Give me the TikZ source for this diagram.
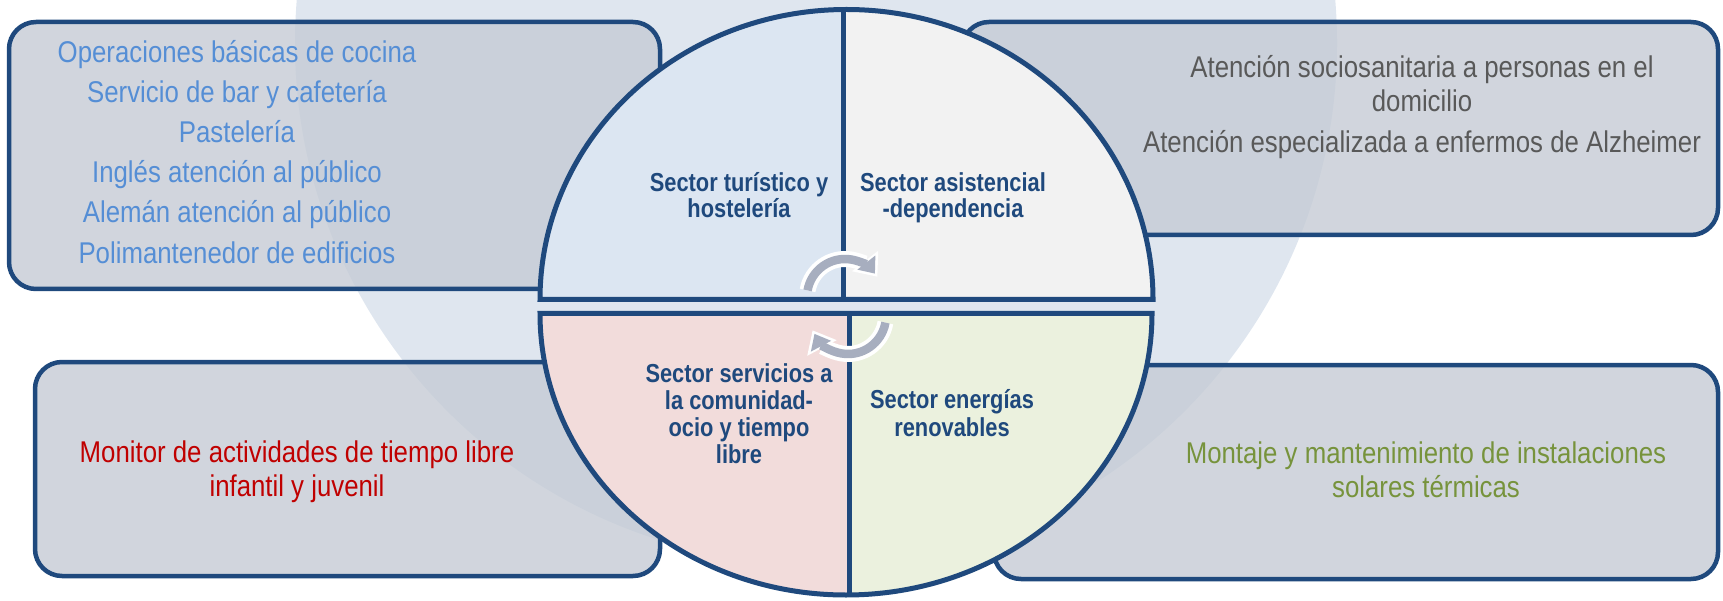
\documentclass[tikz,border=0pt]{standalone}
\usepackage{fontspec}
\setmainfont{Liberation Sans}
\newfontfamily\nar[FakeStretch=0.86]{Liberation Sans}
\newfontfamily\narb[FakeStretch=0.84]{Liberation Sans}
\usetikzlibrary{arrows.meta}
\definecolor{navy}{HTML}{1F497D}
\definecolor{bgc}{HTML}{DFE6EF}
\definecolor{boxc}{HTML}{C5CBD5}
\definecolor{tlc}{HTML}{DCE6F2}
\definecolor{trc}{HTML}{F2F2F2}
\definecolor{blc}{HTML}{F2DCDB}
\definecolor{brc}{HTML}{EBF1DE}
\definecolor{ctl}{HTML}{558ED5}
\definecolor{ctr}{HTML}{595959}
\definecolor{cbl}{HTML}{C00000}
\definecolor{cbr}{HTML}{77933C}
\definecolor{arrg}{HTML}{A7AEBF}
\tikzset{
  box/.style={draw=navy, line width=4.5pt, fill=boxc, fill opacity=0.8, draw opacity=1, rounded corners=27pt, inner sep=0pt},
  boxtext/.style={font=\nar\fontsize{30}{36}\selectfont, anchor=base, inner sep=0pt},
  sectortext/.style={font=\narb\bfseries\fontsize{26}{27}\selectfont, text=navy, anchor=base, inner sep=0pt},
  pieline/.style={draw=navy, line width=5pt, line join=miter},
  cyclewhite/.style={draw=white, line width=16pt, shorten >=-4pt, -{Triangle[length=20pt,width=32pt]}},
  cyclegray/.style={draw=arrg, line width=8.5pt, -{Triangle[length=14pt,width=22pt]}}
}
\begin{document}
\begin{tikzpicture}[x=1pt,y=-1pt]
\useasboundingbox (0,0) rectangle (1723,601);
\clip (0,0) rectangle (1723,601);
% background circle
\fill[bgc] (816,43) circle[radius=521];
% boxes
\node[box, minimum width=651pt, minimum height=267pt] (bTL) at (334.5,155.5) {};
\node[box, minimum width=756pt, minimum height=213pt] (bTR) at (1340,128.5) {};
\node[box, minimum width=625pt, minimum height=214pt] (bBL) at (347.5,469) {};
\node[box, minimum width=724pt, minimum height=214pt] (bBR) at (1356,472) {};
% box texts
\node[boxtext, text=ctl] (t1) at (237,63) {Operaciones básicas de cocina};
\node[boxtext, text=ctl] (t2) at (237,103) {Servicio de bar y cafetería};
\node[boxtext, text=ctl] (t3) at (237,143) {Pastelería};
\node[boxtext, text=ctl] (t4) at (237,183) {Inglés atención al público};
\node[boxtext, text=ctl] (t5) at (237,223) {Alemán atención al público};
\node[boxtext, text=ctl] (t6) at (237,264) {Polimantenedor de edificios};
\node[boxtext, text=ctr] (r1) at (1422,78) {Atención sociosanitaria a personas en el};
\node[boxtext, text=ctr] (r2) at (1422,112) {domicilio};
\node[boxtext, text=ctr] (r3) at (1422,153) {Atención especializada a enfermos de Alzheimer};
\node[boxtext, text=cbl] (m1) at (297,462) {Monitor de actividades de tiempo libre};
\node[boxtext, text=cbl] (m2) at (297,496) {infantil y juvenil};
\node[boxtext, text=cbr] (g1) at (1426,463) {Montaje y mantenimiento de instalaciones};
\node[boxtext, text=cbr] (g2) at (1426,497) {solares térmicas};
% pie fills
\begin{scope}
  \clip (530,0) rectangle (843,299.5);
  \fill[tlc] (540,299.5) arc[start angle=180, end angle=360, x radius=306.5, y radius=290] -- cycle;
\end{scope}
\begin{scope}
  \clip (843,0) rectangle (1170,299.5);
  \fill[trc] (540,299.5) arc[start angle=180, end angle=360, x radius=306.5, y radius=290] -- cycle;
\end{scope}
\begin{scope}
  \clip (530,313.5) rectangle (849,601);
  \fill[blc] (1152,313.5) arc[start angle=0, end angle=180, x radius=306, y radius=281.5] -- cycle;
\end{scope}
\begin{scope}
  \clip (849,313.5) rectangle (1170,601);
  \fill[brc] (1152,313.5) arc[start angle=0, end angle=180, x radius=306, y radius=281.5] -- cycle;
\end{scope}
% pie outlines
\draw[pieline] (540,299.5) arc[start angle=180, end angle=360, x radius=306.5, y radius=290] -- cycle;
\draw[pieline] (843,9.5) -- (843,299.5);
\draw[pieline] (1152,313.5) arc[start angle=0, end angle=180, x radius=306, y radius=281.5] -- cycle;
\draw[pieline] (849,313.5) -- (849,595);
% cycle arrows
\draw[cyclewhite] ([shift={(190:38)}]845,297) arc[start angle=190, end angle=322, radius=38];
\draw[cyclegray] ([shift={(190:38)}]845,297) arc[start angle=190, end angle=322, radius=38];
\draw[cyclewhite] ([shift={(10:38)}]848,316) arc[start angle=10, end angle=152, radius=38];
\draw[cyclegray] ([shift={(10:38)}]848,316) arc[start angle=10, end angle=152, radius=38];
% sector labels
\node[sectortext] (s1a) at (739,192) {Sector turístico y};
\node[sectortext] (s1b) at (739,218) {hostelería};
\node[sectortext] (s2a) at (953,192) {Sector asistencial};
\node[sectortext] (s2b) at (953,218) {-dependencia};
\node[sectortext] (s3a) at (739,382) {Sector servicios a};
\node[sectortext] (s3b) at (739,409) {la comunidad-};
\node[sectortext] (s3c) at (739,436) {ocio y tiempo};
\node[sectortext] (s3d) at (739,463) {libre};
\node[sectortext] (s4a) at (952,408) {Sector energías};
\node[sectortext] (s4b) at (952,436) {renovables};
\end{tikzpicture}
\end{document}
